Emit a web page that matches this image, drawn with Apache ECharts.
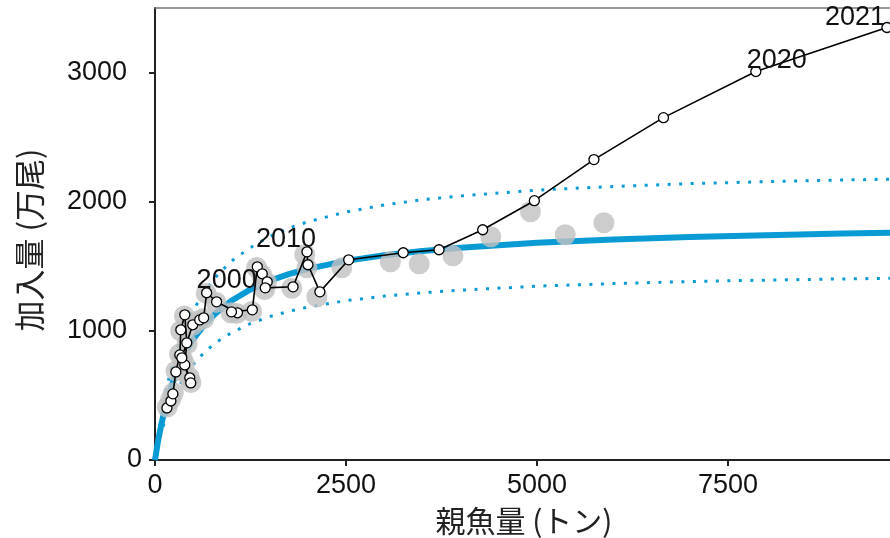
<!DOCTYPE html>
<html><head><meta charset="utf-8">
<script src="https://cdn.jsdelivr.net/npm/echarts@6/dist/echarts.min.js"></script>
<style>html,body{margin:0;padding:0;background:#fff}#c{width:890px;height:538px}</style>
</head><body><div id="c"></div>
<script>
// ---- data ----
const years = [1985,1986,1987,1988,1989,1990,1991,1992,1993,1994,1995,1996,1997,1998,1999,2000,2001,2002,2003,2004,2005,2006,2007,2008,2009,2010,2011,2012,2013,2014,2015,2016,2017,2018,2019,2020,2021];
const ssb = [156,208,234,273,325,338,390,416,390,455,468,351,494,585,637,676,806,1079,1001,1274,1339,1404,1469,1443,1807,1989,2002,2158,2535,3249,3717,4289,4965,5745,6655,7864,9580];
const recruit = [403,457,512,682,814,1008,1124,907,736,636,597,791,1047,1085,1101,1295,1225,1140,1147,1163,1496,1442,1380,1333,1341,1612,1512,1302,1550,1605,1628,1783,2008,2326,2651,3008,3349];

const prevSsb = [160,205,240,275,320,335,385,420,385,450,470,355,490,580,640,670,800,1070,995,1265,1330,1395,1460,1435,1790,1960,1989,2119,2444,3081,3458,3900,4394,4914,5369,5875];
const prevRecruit = [410,470,520,690,820,1000,1115,900,745,640,600,785,1040,1080,1095,1290,1220,1135,1140,1150,1490,1435,1375,1320,1330,1590,1488,1264,1488,1535,1519,1581,1729,1922,1744,1837];

const curveSsb = [0,20,50,100,150,200,300,400,500,650,800,1000,1250,1500,1750,2000,2500,3000,3500,4000,5000,6000,7000,8000,9000,9620];
const curveMid = [0,75,180,320,440,545,710,835,935,1050,1140,1233,1321,1388,1439,1480,1542,1586,1619,1644,1682,1708,1727,1741,1753,1759];
const curveUpper = [0,90,215,400,550,680,880,1040,1160,1305,1420,1540,1645,1730,1795,1845,1920,1975,2015,2045,2090,2118,2140,2155,2168,2175];
const curveLower = [0,57,135,246,342,423,555,658,740,837,910,986,1057,1110,1151,1184,1234,1269,1295,1315,1346,1366,1382,1393,1402,1407];

const labeledYears = [2000,2010,2020,2021];
const xTicks = [0,2500,5000,7500];
const yTicks = [0,1000,2000,3000];
const xName = '親魚量 (トン)';
const yName = '加入量 (万尾)';

// ---- styles ----
const NUM_FONT = "'Liberation Sans', Arial, sans-serif";
const labelOffsets = {2000:[20,-12], 2010:[-21,-12], 2020:[21,-11], 2021:[-32,-10]};
const BLUE = '#0a9bd4';

const pair = (xs, ys) => xs.map((x, i) => [x, ys[i]]);

const mainData = years.map((yr, i) => {
  const item = { value: [ssb[i], recruit[i]] };
  if (labeledYears.includes(yr)) {
    item.label = { show: true, formatter: String(yr), position: 'inside',
      offset: labelOffsets[yr], fontSize: 27, color: '#111', fontFamily: NUM_FONT };
  }
  return item;
});

const chart = echarts.init(document.getElementById('c'), null, { renderer: 'canvas' });
chart.setOption({
  animation: false,
  grid: { left: 155, right: -5, top: 8, bottom: 78 },
  xAxis: [{
    type: 'value', min: 0, max: 9620, position: 'bottom',
    axisLine: { show: true, onZero: false, lineStyle: { color: '#222', width: 2 } },
    axisTick: { show: true, length: 6, customValues: xTicks, lineStyle: { color: '#222', width: 2 } },
    axisLabel: { customValues: xTicks, fontSize: 27, color: '#111', margin: 12, fontFamily: NUM_FONT,
                 formatter: v => String(v) },
    splitLine: { show: false }
  }, {
    type: 'value', min: 0, max: 9620, position: 'top',
    axisLine: { show: true, onZero: false, lineStyle: { color: '#777', width: 1.5 } },
    axisTick: { show: false }, axisLabel: { show: false }, splitLine: { show: false }
  }],
  yAxis: {
    type: 'value', min: 0, max: 3500,
    axisLine: { show: true, onZero: false, lineStyle: { color: '#222', width: 2 } },
    axisTick: { show: true, length: 6, customValues: yTicks, lineStyle: { color: '#222', width: 2 } },
    axisLabel: {
      customValues: yTicks, fontSize: 27, color: '#111', margin: 13, fontFamily: NUM_FONT,
      formatter: v => v === 0 ? '{z|0}' : '{n|' + v + '}',
      rich: { z: { fontSize: 27, fontFamily: NUM_FONT, color: '#111' },
              n: { fontSize: 27, fontFamily: NUM_FONT, color: '#111', padding: [0, 15, 0, 0] } }
    },
    splitLine: { show: false }
  },
  graphic: [
    { type: 'text', x: 29, y: 240, rotation: Math.PI / 2,
      style: { text: yName, font: "31px 'Noto Sans CJK JP'", fill: '#222', align: 'center', verticalAlign: 'middle' } },
    { type: 'text', x: 524, y: 521,
      style: { text: xName, font: "30px 'Noto Sans CJK JP'", fill: '#222', align: 'center', verticalAlign: 'middle' } }
  ],
  series: [
    { type: 'line', data: pair(curveSsb, curveUpper), symbol: 'none', silent: true, z: 1,
      lineStyle: { color: BLUE, width: 3, type: [3, 8.5] } },
    { type: 'line', data: pair(curveSsb, curveLower), symbol: 'none', silent: true, z: 1,
      lineStyle: { color: BLUE, width: 3, type: [3, 8.5] } },
    { type: 'line', data: pair(curveSsb, curveMid), symbol: 'none', silent: true, z: 2,
      lineStyle: { color: BLUE, width: 6 } },
    { type: 'scatter', data: pair(prevSsb, prevRecruit), symbol: 'circle', symbolSize: 21, silent: true, z: 3,
      itemStyle: { color: '#c0c0c0' } },
    { type: 'line', data: mainData, symbol: 'circle', symbolSize: 10, showAllSymbol: true, silent: true, z: 5,
      lineStyle: { color: '#000', width: 1.6 },
      itemStyle: { color: '#fff', borderColor: '#000', borderWidth: 1.3 } }
  ]
});
</script></body></html>
